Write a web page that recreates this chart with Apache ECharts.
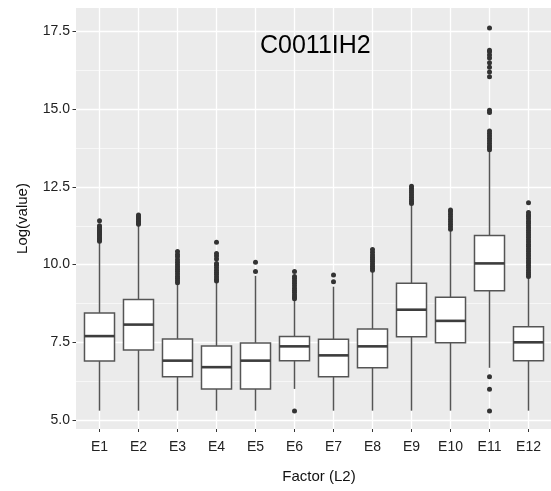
<!DOCTYPE html>
<html>
<head>
<meta charset="utf-8">
<script src="https://cdn.jsdelivr.net/npm/echarts@6/dist/echarts.min.js"></script>
<style>
  html, body { margin: 0; padding: 0; background: #fff; }
  #chart { width: 551px; height: 491px; }
</style>
</head>
<body>
<div id="chart"></div>
<script>
// categories and box statistics
const cats = ['E1', 'E2', 'E3', 'E4', 'E5', 'E6', 'E7', 'E8', 'E9', 'E10', 'E11', 'E12'];
const lowWhisker = [5.30, 5.30, 5.30, 5.30, 5.30, 6.00, 5.30, 5.30, 5.30, 5.30, 6.68, 5.30];
const q1 = [6.90, 7.25, 6.39, 6.00, 6.00, 6.91, 6.39, 6.68, 7.68, 7.49, 9.16, 6.91];
const medians = [7.70, 8.07, 6.91, 6.70, 6.91, 7.37, 7.08, 7.37, 8.55, 8.19, 10.04, 7.50];
const q3 = [8.44, 8.88, 7.61, 7.38, 7.48, 7.69, 7.60, 7.93, 9.40, 8.95, 10.94, 8.00];
const highWhisker = [10.70, 11.25, 9.38, 9.42, 9.64, 8.86, 9.29, 9.77, 11.93, 11.08, 13.66, 9.57];
const outliers = [
  [10.75, 10.8, 10.85, 10.9, 10.95, 11.0, 11.05, 11.1, 11.15, 11.2, 11.25, 11.41],
  [11.3, 11.35, 11.4, 11.45, 11.5, 11.55, 11.6],
  [9.42, 9.48, 9.55, 9.62, 9.7, 9.78, 9.85, 9.92, 10.0, 10.08, 10.16, 10.25, 10.33, 10.42],
  [9.47, 9.53, 9.6, 9.68, 9.75, 9.82, 9.9, 9.98, 10.04, 10.18, 10.28, 10.36, 10.72],
  [9.78, 10.08],
  [5.29, 8.9, 8.96, 9.02, 9.1, 9.17, 9.24, 9.32, 9.4, 9.47, 9.55, 9.62, 9.78],
  [9.45, 9.67],
  [9.82, 9.88, 9.95, 10.02, 10.1, 10.17, 10.24, 10.31, 10.4, 10.49],
  [11.97, 12.03, 12.1, 12.17, 12.24, 12.31, 12.38, 12.45, 12.52],
  [11.14, 11.22, 11.3, 11.38, 11.46, 11.54, 11.62, 11.7, 11.76],
  [5.29, 5.99, 6.39, 13.7, 13.76, 13.82, 13.9, 13.98, 14.06, 14.14, 14.22, 14.3, 14.9, 14.97,
   16.05, 16.2, 16.35, 16.5, 16.65, 16.75, 16.85, 16.9, 17.62],
  [9.62, 9.68, 9.75, 9.82, 9.9, 9.97, 10.05, 10.12, 10.2, 10.28, 10.35, 10.43, 10.5, 10.58,
   10.65, 10.73, 10.8, 10.88, 10.95, 11.03, 11.1, 11.18, 11.25, 11.33, 11.4, 11.48, 11.55,
   11.6, 11.68, 11.99]
];
const yMajor = [5, 7.5, 10, 12.5, 15, 17.5];
const yMinor = [6.25, 8.75, 11.25, 13.75, 16.25];
const yMin = 4.71, yMax = 18.26;

const chart = echarts.init(document.getElementById('chart'));

const boxData = cats.map((c, i) => [i, lowWhisker[i], q1[i], medians[i], q3[i], highWhisker[i]]);
const outlierData = [];
outliers.forEach((list, i) => list.forEach(v => outlierData.push([cats[i], v])));

const edge = '#555';

function renderBox(params, api) {
  const i = api.value(0);
  const pLo = api.coord([i, api.value(1)]);
  const pQ1 = api.coord([i, api.value(2)]);
  const pMed = api.coord([i, api.value(3)]);
  const pQ3 = api.coord([i, api.value(4)]);
  const pHi = api.coord([i, api.value(5)]);
  const w = api.size([1, 0])[0] * 0.77;
  const x = pMed[0];
  return {
    type: 'group',
    children: [
      { type: 'line', shape: { x1: x, y1: pLo[1], x2: x, y2: pQ1[1] },
        style: { stroke: edge, lineWidth: 1.5 } },
      { type: 'line', shape: { x1: x, y1: pQ3[1], x2: x, y2: pHi[1] },
        style: { stroke: edge, lineWidth: 1.5 } },
      { type: 'rect', shape: { x: x - w / 2, y: pQ3[1], width: w, height: pQ1[1] - pQ3[1] },
        style: { fill: '#fff', stroke: edge, lineWidth: 1.5 } },
      { type: 'line', shape: { x1: x - w / 2, y1: pMed[1], x2: x + w / 2, y2: pMed[1] },
        style: { stroke: '#3d3d3d', lineWidth: 2.6 } }
    ]
  };
}

const font = 'Liberation Sans, Arial, sans-serif';

chart.setOption({
  animation: false,
  title: {
    text: 'C0011IH2',
    left: 255,
    top: 29,
    textStyle: { fontFamily: font, fontSize: 25, fontWeight: 'normal', color: '#000' }
  },
  grid: [
    { left: 76, top: 8, width: 475, height: 421, show: true, backgroundColor: '#ebebeb', borderWidth: 0 },
    { left: 80, top: 8, width: 468, height: 421 }
  ],
  xAxis: [
    { type: 'value', gridIndex: 0, min: 0, max: 1, show: false },
    {
      type: 'category', gridIndex: 1, data: cats,
      axisLine: { show: false },
      axisTick: { show: true, alignWithLabel: true, length: 3, lineStyle: { color: '#333' } },
      axisLabel: { fontFamily: font, fontSize: 14, color: '#222', margin: 11 },
      splitLine: { show: false },
      name: 'Factor (L2)', nameLocation: 'middle', nameGap: 40,
      nameTextStyle: { fontFamily: font, fontSize: 15, color: '#111', padding: [0, 0, 0, 10] }
    }
  ],
  yAxis: [
    {
      type: 'value', gridIndex: 0, min: yMin, max: yMax,
      axisLine: { show: false },
      axisTick: { show: true, length: 3.5, customValues: yMajor, lineStyle: { color: '#333' } },
      axisLabel: { fontFamily: font, fontSize: 14, color: '#222', margin: 6, customValues: yMajor,
                   formatter: v => v.toFixed(1) },
      splitLine: { show: false },
      name: 'Log(value)', nameLocation: 'middle', nameGap: 46,
      nameTextStyle: { fontFamily: font, fontSize: 15, color: '#111' }
    },
    { type: 'value', gridIndex: 1, min: yMin, max: yMax, show: false, splitLine: { show: false } }
  ],
  series: [
    {
      type: 'line', xAxisIndex: 0, yAxisIndex: 0, data: [], z: 1,
      markLine: {
        silent: true, z: 1, symbol: ['none', 'none'], label: { show: false },
        data: yMajor.map(v => ({ yAxis: v, lineStyle: { color: '#fff', width: 1.3, type: 'solid' } }))
          .concat(yMinor.map(v => ({ yAxis: v, lineStyle: { color: '#fff', width: 0.6, type: 'solid' } })))
      }
    },
    {
      type: 'line', xAxisIndex: 1, yAxisIndex: 1, data: [], z: 1,
      markLine: {
        silent: true, z: 1, symbol: ['none', 'none'], label: { show: false },
        lineStyle: { color: '#fff', width: 1.3, type: 'solid' },
        data: cats.map(c => ({ xAxis: c }))
      }
    },
    {
      type: 'custom', xAxisIndex: 1, yAxisIndex: 1, z: 3,
      renderItem: renderBox,
      encode: { x: 0, y: [1, 2, 3, 4, 5] },
      data: boxData
    },
    {
      type: 'scatter', xAxisIndex: 1, yAxisIndex: 1, z: 4,
      symbolSize: 5,
      itemStyle: { color: '#333', opacity: 1 },
      data: outlierData
    }
  ]
});
</script>
</body>
</html>
